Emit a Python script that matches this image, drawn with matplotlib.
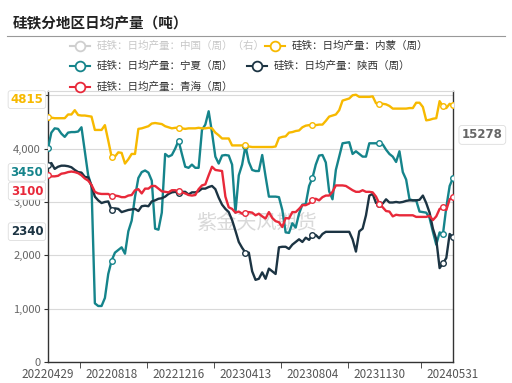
import numpy as np
import matplotlib
matplotlib.use("Agg")
import matplotlib.pyplot as plt
from matplotlib.lines import Line2D

plt.rcParams['font.family'] = ['Noto Sans CJK SC', 'DejaVu Sans']

# 硅铁日均产量（吨），周度
neimeng = [4594, 4580, 4570, 4570, 4570, 4570, 4640, 4640, 4720, 4630,
           4620, 4620, 4610, 4600, 4350, 4350, 4350, 4440, 4150, 3850,
           3850, 3930, 3920, 3720, 3800, 3900, 3900, 4370, 4380, 4400,
           4420, 4470, 4480, 4470, 4460, 4420, 4400, 4380, 4390, 4390,
           4380, 4370, 4380, 4380, 4380, 4390, 4380, 4380, 4390, 4380,
           4300, 4250, 4190, 4190, 4190, 4060, 4060, 4060, 4060, 4060,
           4040, 4030, 4030, 4030, 4030, 4030, 4030, 4030, 4040, 4200,
           4220, 4230, 4300, 4310, 4330, 4340, 4400, 4430, 4440, 4440,
           4440, 4450, 4450, 4520, 4600, 4620, 4640, 4720, 4900, 4920,
           4940, 5000, 5010, 4970, 4970, 4970, 4970, 4980, 4850, 4840,
           4840, 4830, 4800, 4750, 4750, 4750, 4750, 4750, 4760, 4760,
           4860, 4860, 4780, 4530, 4540, 4560, 4570, 4890, 4790, 4760,
           4840, 4815]
ningxia = [4010, 4300, 4380, 4370, 4280, 4220, 4300, 4310, 4310, 4320,
           4400, 3950, 3500, 3300, 1100, 1050, 1050, 1200, 1650, 1900,
           2050, 2100, 2150, 2030, 2450, 2650, 3100, 3450, 3560, 3590,
           3550, 3400, 2500, 2480, 2800, 3900, 3850, 3880, 4000, 4150,
           3900, 3660, 3640, 3700, 3640, 3640, 4350, 4450, 4700, 4300,
           3850, 3720, 3870, 3880, 3870, 3700, 2800, 3500, 3700, 4050,
           3750, 3600, 3580, 3580, 3880, 3480, 3100, 3100, 3100, 3090,
           2850, 2430, 2420, 2600, 2520, 2780, 2950, 2960, 3300, 3450,
           3700, 3870, 3880, 3740, 3200, 3050, 3600, 3850, 4100, 4110,
           4120, 3900, 3950, 3900, 3850, 3850, 4100, 4100, 4100, 4100,
           4080, 3980, 3900, 3850, 3750, 3950, 3560, 3420, 3050, 3030,
           3030, 2820, 2810, 2800, 2700, 2440, 2200, 2430, 2400, 2900,
           3300, 3450]
shaanxi = [3690, 3730, 3620, 3660, 3680, 3680, 3670, 3650, 3600, 3560,
           3550, 3470, 3460, 3300, 3100, 3030, 2980, 3000, 3010, 2850,
           2880, 2870, 2810, 2830, 2850, 2860, 2870, 2830, 2920, 2930,
           2920, 3010, 3030, 3060, 3070, 3100, 3150, 3180, 3190, 3160,
           3190, 3190, 3140, 3180, 3180, 3200, 3250, 3250, 3280, 3300,
           3240, 3080, 2950, 2870, 2810, 2660, 2460, 2250, 2140, 2050,
           2050, 1700, 1540, 1560, 1680, 1560, 1750, 1700, 1650, 2150,
           2160, 2160, 2120, 2200, 2250, 2300, 2250, 2330, 2290, 2380,
           2380, 2320, 2400, 2440, 2440, 2440, 2440, 2440, 2440, 2440,
           2440, 2300, 2070, 2450, 2500, 2750, 3120, 3150, 2980, 2960,
           2970, 3050, 2990, 2990, 3000, 2990, 3000, 3020, 3030, 3030,
           3030, 3040, 3120, 2980, 2800, 2500, 2300, 1760, 1850, 1950,
           2400, 2340]
qinghai = [3500, 3480, 3480, 3490, 3530, 3540, 3560, 3570, 3560, 3540,
           3500, 3440, 3400, 3320, 3190, 3160, 3150, 3150, 3150, 3110,
           3120, 3110, 3090, 3090, 3120, 3130, 3220, 3240, 3160, 3250,
           3250, 3300, 3300, 3250, 3200, 3190, 3180, 3220, 3220, 3200,
           3180, 3160, 3130, 3120, 3130, 3240, 3310, 3330, 3500, 3660,
           3600, 3590, 3580, 3100, 2900, 2870, 2800, 2820, 2780, 2800,
           2810, 2800, 2750, 2780, 2730, 2690, 2810, 2700, 2640, 2620,
           2530, 2700, 2690, 2810, 2810, 2870, 2940, 2940, 2970, 3030,
           3060, 3030, 3090, 3120, 3120, 3190, 3310, 3310, 3310, 3300,
           3260, 3220, 3190, 3190, 3220, 3190, 3190, 3180, 3100, 2970,
           2900, 2830, 2820, 2730, 2760, 2750, 2750, 2750, 2750, 2750,
           2720, 2720, 2720, 2720, 2740, 2660, 2730, 2870, 2900, 2850,
           3050, 3100]
china_last = 15278

date_labels = ['20220429', '20220818', '20221216', '20230413',
               '20230804', '20231130', '20240531']
label_idx = [0, 19, 39, 59, 79, 99, 121]
tick_idx = [9.5, 29.5, 49.5, 69.5, 89.5, 111.5]
marker_idx = [0, 19, 39, 59, 79, 99, 118, 121]

c_nm = '#f7b900'
c_nx = '#15848b'
c_sx = '#1c3443'
c_qh = '#e8293a'
c_cn = '#cfcfcf'

series = [
    ('硅铁：日均产量：宁夏（周）', ningxia, c_nx),
    ('硅铁：日均产量：陕西（周）', shaanxi, c_sx),
    ('硅铁：日均产量：青海（周）', qinghai, c_qh),
    ('硅铁：日均产量：内蒙（周）', neimeng, c_nm),
]

fig = plt.figure(figsize=(5.12, 3.83), dpi=100)
ax = fig.add_axes([48 / 512, 21 / 383, 405 / 512, 271 / 383])

x = np.arange(len(neimeng))
for name, vals, col in series:
    ax.plot(x, vals, color=col, lw=1.7, zorder=3,
            marker='o', markevery=marker_idx, ms=4,
            mfc='white', mec=col, mew=1)

ax.set_xlim(0, len(neimeng) - 1)
ax.set_ylim(0, 5080)
ax.set_yticks([0, 1000, 2000, 3000, 4000, 5000])
ax.set_yticklabels(['0', '1,000', '2,000', '3,000', '4,000', '5,000'])
ax.grid(axis='y', color='#d9d9d9', lw=0.8)
ax.set_axisbelow(True)
ax.set_xticks(label_idx)
ax.set_xticklabels(date_labels)
ax.set_xticks(tick_idx, minor=True)
ax.tick_params(axis='x', which='major', length=0, pad=4, labelsize=8.4, colors='#555555')
ax.tick_params(axis='x', which='minor', length=4, color='#333333')
ax.tick_params(axis='y', length=3, color='#333333', labelsize=8, labelcolor='#666666', pad=2)
for s in ['left', 'bottom', 'right']:
    ax.spines[s].set_color('#333333')
    ax.spines[s].set_linewidth(1)
ax.spines['top'].set_color('#d9d9d9')

# 左侧最新值标签
for name, vals, col in series:
    ax.annotate(str(vals[-1]), xy=(-0.052, vals[-1]),
                xycoords=ax.get_yaxis_transform(),
                xytext=(0, 4), textcoords='offset points',
                ha='center', va='center', fontsize=8.5, fontweight='bold',
                color=col, family=['DejaVu Sans'],
                bbox=dict(boxstyle='round,pad=0.2', fc='white', ec='#dddddd', lw=0.6),
                zorder=6, annotation_clip=False)

# 右侧中国标签（隐藏系列）
ax.text(1.022, 0.838, str(china_last), transform=ax.transAxes,
        ha='left', va='center', fontsize=8.5, fontweight='bold',
        color='#666666', family=['DejaVu Sans'],
        bbox=dict(boxstyle='round,pad=0.25', fc='white', ec='#dddddd', lw=0.6))

# 水印
ax.text(0.515, 0.51, '紫金天风期货', transform=ax.transAxes, ha='center',
        va='center', fontsize=14.5, color='#d9d9d9', zorder=1)

# 标题
fig.text(13 / 512, 1 - 23 / 383, '硅铁分地区日均产量（吨）', ha='left', va='center',
         fontsize=10.5, fontweight='bold', color='#222222')
fig.add_artist(Line2D([7 / 512, 505 / 512], [1 - 36 / 383, 1 - 36 / 383],
                      color='#999999', lw=0.8))

# 图例
legend_items = [
    ('硅铁：日均产量：中国（周）（右）', c_cn, 70, 46, '#c8c8c8'),
    ('硅铁：日均产量：内蒙（周）', c_nm, 265, 46, '#333333'),
    ('硅铁：日均产量：宁夏（周）', c_nx, 70, 66, '#333333'),
    ('硅铁：日均产量：陕西（周）', c_sx, 247, 66, '#333333'),
    ('硅铁：日均产量：青海（周）', c_qh, 70, 87, '#333333'),
]
for name, col, px, py, tc in legend_items:
    yy = 1 - py / 383
    fig.add_artist(Line2D([px / 512, (px + 20) / 512], [yy, yy], color=col, lw=1.5))
    fig.add_artist(Line2D([(px + 10) / 512], [yy], marker='o', ms=7, mfc='white',
                          mec=col, mew=1.3, color=col))
    fig.text((px + 27) / 512, yy, name, ha='left', va='center', fontsize=7.6, color=tc)

fig.savefig('out.png', dpi=100)
